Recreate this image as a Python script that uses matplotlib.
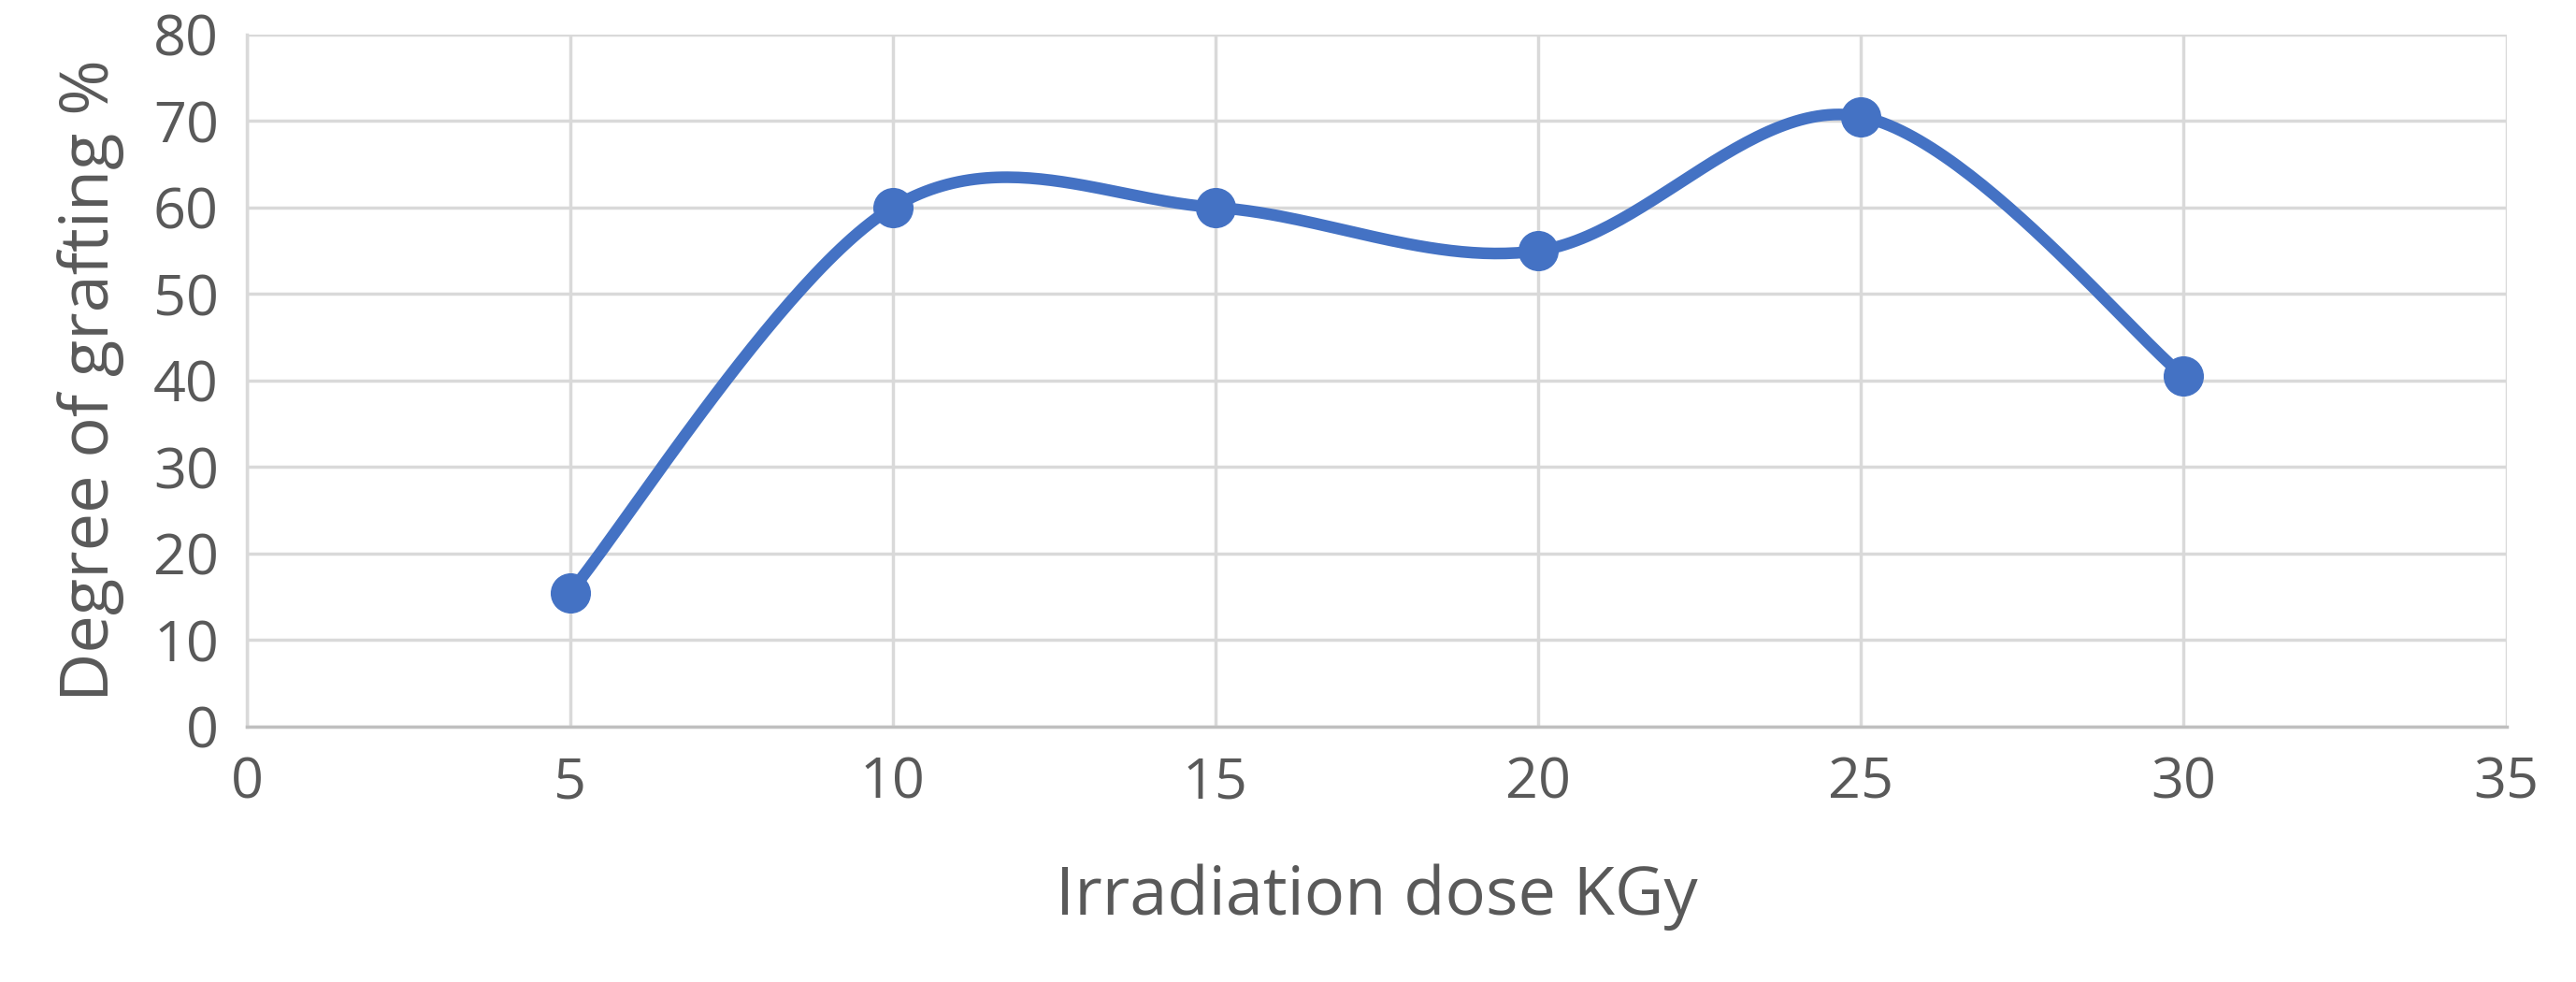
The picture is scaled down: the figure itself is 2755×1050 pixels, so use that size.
import numpy as np
import matplotlib.pyplot as plt

plt.rcParams['font.family'] = ['Open Sans', 'DejaVu Sans']

dose = [5, 10, 15, 20, 25, 30]
grafting = [15.5, 60, 60, 55, 70.5, 40.5]

color = '#4472C4'

# Excel-like smoothed line (Catmull-Rom Bezier segments)
x = np.array(dose, float)
y = np.array(grafting, float)
px = np.concatenate([[x[0]], x, [x[-1]]])
py = np.concatenate([[y[0]], y, [y[-1]]])
cx, cy = [], []
t = np.linspace(0, 1, 60)
for i in range(1, len(px) - 2):
    p0 = np.array([px[i], py[i]])
    p3 = np.array([px[i + 1], py[i + 1]])
    p1 = p0 + (p3 - np.array([px[i - 1], py[i - 1]])) / 6
    p2 = p3 - (np.array([px[i + 2], py[i + 2]]) - p0) / 6
    b = ((1 - t)[:, None] ** 3 * p0 + 3 * ((1 - t) ** 2 * t)[:, None] * p1
         + 3 * ((1 - t) * t ** 2)[:, None] * p2 + (t ** 3)[:, None] * p3)
    cx.extend(b[:, 0]); cy.extend(b[:, 1])

fig = plt.figure(figsize=(27.55, 10.5), dpi=100)
ax = fig.add_axes([0.096, 0.26, 0.877, 0.705])
ax.plot(cx, cy, color=color, lw=9, solid_capstyle='round', zorder=3)
ax.plot(dose, grafting, 'o', color=color, ms=30, zorder=4)

ax.set_xlim(0, 35)
ax.set_ylim(0, 80)
ax.set_xticks(range(0, 36, 5))
ax.set_yticks(range(0, 81, 10))
ax.grid(True, color='#D9D9D9', lw=2.5)
ax.set_axisbelow(True)
for s in ['top', 'right']:
    ax.spines[s].set_visible(False)
ax.spines['left'].set_color('#D9D9D9')
ax.spines['bottom'].set_color('#BFBFBF')
ax.spines['left'].set_linewidth(2.5)
ax.spines['bottom'].set_linewidth(2.5)
ax.tick_params(length=0, labelsize=44, colors='#595959', pad=22)
ax.set_xlabel('Irradiation dose KGy', fontsize=52, color='#595959', labelpad=40)
ax.set_ylabel('Degree of grafting %', fontsize=52, color='#595959', labelpad=22)

fig.savefig('out.png', dpi=100, facecolor='white')
